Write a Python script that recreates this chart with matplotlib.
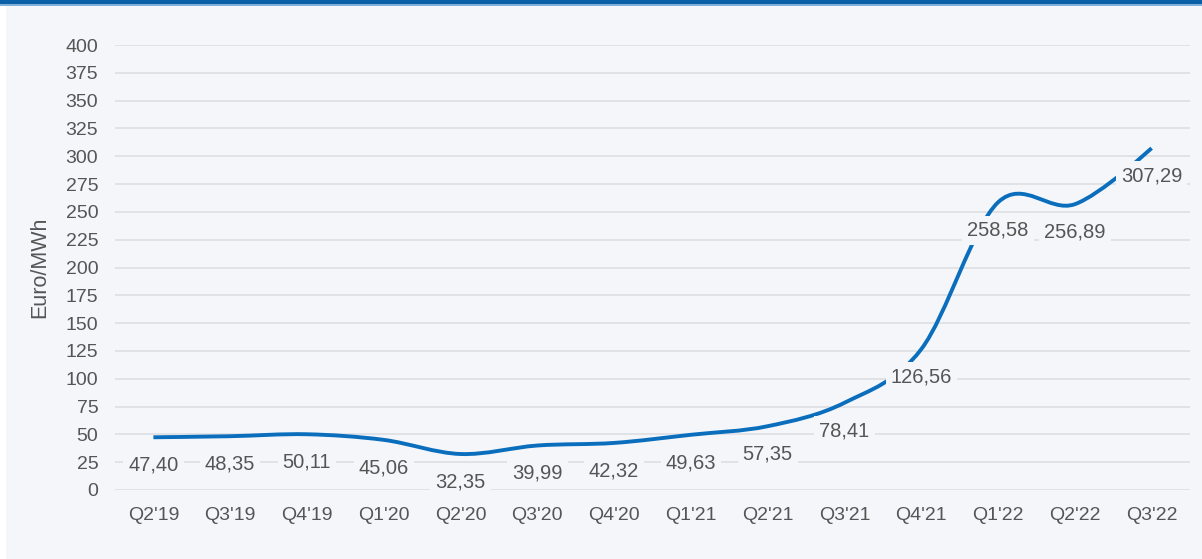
import matplotlib
matplotlib.use("Agg")
import matplotlib.pyplot as plt
from matplotlib.path import Path
from matplotlib.patches import PathPatch, Rectangle

categories = ["Q2'19", "Q3'19", "Q4'19", "Q1'20", "Q2'20", "Q3'20", "Q4'20",
              "Q1'21", "Q2'21", "Q3'21", "Q4'21", "Q1'22", "Q2'22", "Q3'22"]
values = [47.40, 48.35, 50.11, 45.06, 32.35, 39.99, 42.32,
          49.63, 57.35, 78.41, 126.56, 258.58, 256.89, 307.29]
yticks = list(range(0, 401, 25))
ylabel = "Euro/MWh"

BG = "#f5f6fa"
LINE = "#0a6ebd"
TXT = "#555555"
GRID = "#e1e2e6"

plt.rcParams['font.family'] = ['Liberation Sans', 'DejaVu Sans']

fig = plt.figure(figsize=(12.02, 5.59), dpi=100, facecolor="white")
W, H = 1202, 559
# panel background and top bar
fig.patches.append(Rectangle((6 / W, 0), 1, (H - 2) / H, transform=fig.transFigure,
                             facecolor=BG, edgecolor="none", zorder=-10))
fig.patches.append(Rectangle((0, (H - 4) / H), 1, 4 / H, transform=fig.transFigure,
                             facecolor="#0a5fa6", edgecolor="none", zorder=-9))
fig.patches.append(Rectangle((0, (H - 5.5) / H), 1, 1.5 / H, transform=fig.transFigure,
                             facecolor="#7fb0da", edgecolor="none", zorder=-9))

ax = fig.add_axes([115 / W, (H - 490) / H, (1190 - 115) / W, (490 - 45) / H])
ax.set_facecolor("none")
ax.set_xlim(-0.5, len(categories) - 0.5)
ax.set_ylim(0, 400)
for s in ax.spines.values():
    s.set_visible(False)
ax.set_yticks(yticks)
ax.set_yticklabels([str(v) for v in yticks])
ax.set_xticks(range(len(categories)))
ax.set_xticklabels(categories)
ax.tick_params(axis="both", length=0, colors=TXT, labelsize=14)
ax.tick_params(axis="y", pad=12)
ax.tick_params(axis="x", pad=12.5)
ax.grid(axis="y", color=GRID, linewidth=1.4, zorder=0)
ax.set_axisbelow(True)
ax.set_ylabel(ylabel, color=TXT, fontsize=15.5, labelpad=11)

# Catmull-Rom style smooth line (cubic Bezier segments)
xs = list(range(len(values)))
ys = values
n = len(xs)
tang = []
for i in range(n):
    if i == 0 or i == n - 1:
        tang.append(0.0)
    else:
        tang.append((ys[i + 1] - ys[i - 1]) / (xs[i + 1] - xs[i - 1]))

verts = [(xs[0], ys[0])]
codes = [Path.MOVETO]
for i in range(1, n):
    dx = xs[i] - xs[i - 1]
    if i - 1 == 0:
        c1 = (xs[i - 1], ys[i - 1])
    else:
        c1 = (xs[i - 1] + dx / 3, ys[i - 1] + tang[i - 1] * dx / 3)
    if i == n - 1:
        c2 = (xs[i], ys[i])
    else:
        c2 = (xs[i] - dx / 3, ys[i] - tang[i] * dx / 3)
    verts += [c1, c2, (xs[i], ys[i])]
    codes += [Path.CURVE4] * 3
path = Path(verts, codes)
ax.add_patch(PathPatch(path, facecolor="none", edgecolor=LINE, linewidth=2.8,
                       capstyle="butt", zorder=3, clip_on=False))

for x, v in zip(xs, values):
    ax.annotate(f"{v:.2f}".replace(".", ","), xy=(x, v), xytext=(0, -20),
                textcoords="offset points", ha="center", va="center",
                fontsize=14.5, color=TXT, zorder=5,
                bbox=dict(boxstyle="square,pad=0.25", fc=BG, ec="none"))

fig.savefig("out.png", dpi=100, facecolor=fig.get_facecolor())
